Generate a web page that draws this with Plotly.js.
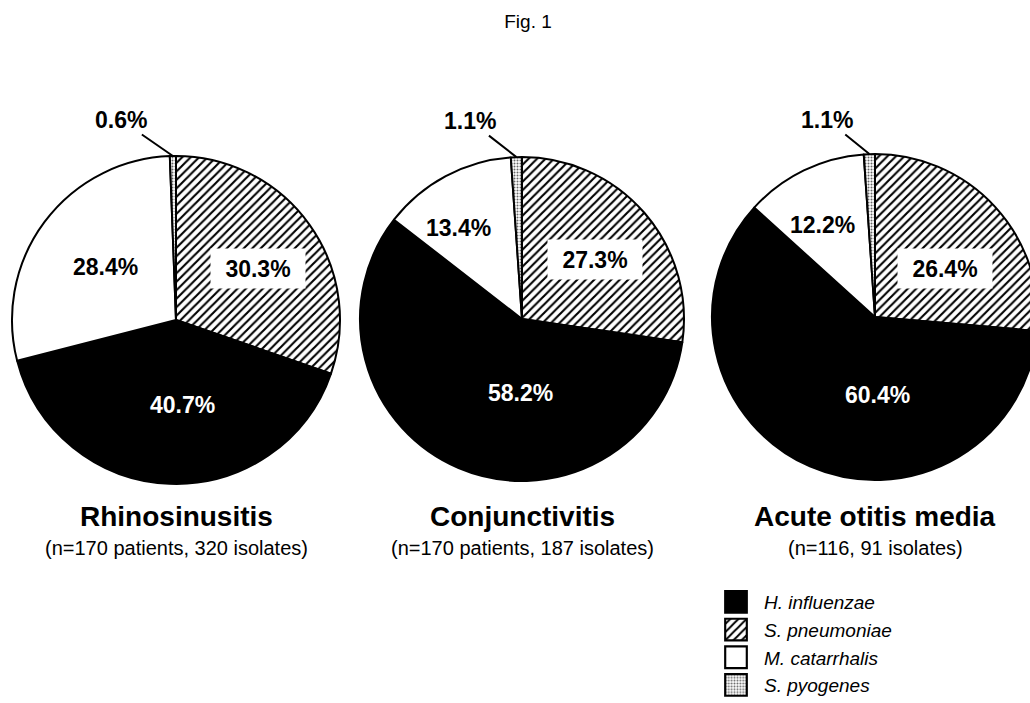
<!DOCTYPE html>
<html>
<head>
<meta charset="utf-8">
<script src="https://cdn.plot.ly/plotly-3.0.1.min.js"></script>
<style>
html, body { margin:0; padding:0; overflow:hidden; background:#fff; }
#chart { width:1100px; height:760px; }
</style>
</head>
<body>
<div id="chart"></div>
<script>
// ---------- data ----------
const legendSpecies = ['H. influenzae', 'S. pneumoniae', 'M. catarrhalis', 'S. pyogenes'];
const sliceSpecies  = ['S. pneumoniae', 'H. influenzae', 'M. catarrhalis', 'S. pyogenes'];
const rhinoValues = [30.3, 40.7, 28.4, 0.6];
const conjValues  = [27.3, 58.2, 13.4, 1.1];
const aomValues   = [26.4, 60.4, 12.2, 1.1];
const diseaseTitles = ['Rhinosinusitis', 'Conjunctivitis', 'Acute otitis media'];
const diseaseSubtitles = ['(n=170 patients, 320 isolates)', '(n=170 patients, 187 isolates)', '(n=116, 91 isolates)'];
const figTitle = 'Fig. 1';

// ---------- styles / layout config ----------
const W = 1100, H = 760;   // drawing is larger than the 1030x703 window; the third pie runs off the right edge
const FONT = 'Arial, "Liberation Sans", sans-serif';
const style = {
  'H. influenzae':  {color: 'black', pattern: {shape: ''}},
  'S. pneumoniae':  {color: 'white', pattern: {shape: '/', fgcolor: 'black', bgcolor: 'white', size: 6, solidity: 0.35, fillmode: 'replace'}},
  'M. catarrhalis': {color: 'white', pattern: {shape: ''}},
  'S. pyogenes':    {color: 'white', pattern: {shape: '.', fgcolor: '#666', bgcolor: 'white', size: 3, solidity: 0.35, fillmode: 'replace'}}
};
const legendPatternSize = {'S. pneumoniae': 4, 'S. pyogenes': 2};
const pieCenters = [[176, 320], [522, 319], [875, 317]];   // px
const pieRadii = [164, 162, 163];
// label placement (pixel offsets from pie centre) for slices 0..2, and leader offset for slice 3
const labelOffsets = [
  [[82, -52], [6, 85], [-71, -53]],
  [[73, -59], [-2, 74], [-64, -91]],
  [[70, -49], [2, 78], [-53, -92]]
];
const labelColors = ['black', 'white', 'black'];
const smallLabelOffsets = [[-52, -36], [-46, -36], [-42, -34]];
const allValues = [rhinoValues, conjValues, aomValues];
const SWATCH_SCALE = 1.8;

const traces = [];
const annotations = [];
const pctFont = c => ({family: FONT, size: 23, weight: 'bold', color: c});

function patt(key) {
  const defs = {shape: '', fgcolor: 'black', bgcolor: 'white', size: 8, solidity: 0.3};
  return sliceSpecies.map(s => {
    const p = style[s].pattern;
    return p[key] !== undefined ? p[key] : defs[key];
  });
}

allValues.forEach((vals, i) => {
  const [cx, cy] = pieCenters[i];
  const r = pieRadii[i];
  traces.push({
    type: 'pie',
    labels: sliceSpecies,
    values: vals,
    sort: false,
    direction: 'clockwise',
    rotation: 0,
    domain: {x: [(cx - r) / W, (cx + r) / W], y: [(H - cy - r) / H, (H - cy + r) / H]},
    showlegend: false,
    textinfo: 'none',
    hoverinfo: 'label+value',
    marker: {
      colors: sliceSpecies.map(s => style[s].color),
      line: {color: 'black', width: 2},
      pattern: {
        shape: patt('shape'), fgcolor: patt('fgcolor'), bgcolor: patt('bgcolor'),
        size: patt('size'), solidity: patt('solidity'), fillmode: 'replace'
      }
    }
  });

  // percentage labels for the three large slices
  for (let k = 0; k < 3; k++) {
    const [ox, oy] = labelOffsets[i][k];
    const a = {
      xref: 'paper', yref: 'paper', x: (cx + ox) / W, y: (H - cy - oy) / H,
      xanchor: 'center', yanchor: 'middle',
      text: vals[k].toFixed(1) + '%', showarrow: false,
      font: pctFont(labelColors[k])
    };
    if (k === 0) { a.bgcolor = 'white'; a.width = 92; a.height = 37; }
    annotations.push(a);
  }

  // small slice label outside with leader line pointing to the slice on the rim
  const total = vals.reduce((a, b) => a + b, 0);
  const a3 = (total - vals[3] / 2) / total * 2 * Math.PI;
  const px = cx + r * Math.sin(a3);
  const py = cy - r * Math.cos(a3);
  annotations.push({
    xref: 'paper', yref: 'paper', x: px / W, y: (H - py) / H,
    text: vals[3].toFixed(1) + '%', showarrow: true, arrowhead: 0, arrowwidth: 2, arrowcolor: 'black',
    ax: smallLabelOffsets[i][0], ay: smallLabelOffsets[i][1], standoff: 0,
    font: pctFont('black')
  });

  // disease title + subtitle
  annotations.push({
    xref: 'paper', yref: 'paper', x: cx / W, y: (H - 516) / H, xanchor: 'center', yanchor: 'middle',
    text: diseaseTitles[i], showarrow: false,
    font: {family: FONT, size: 28, weight: 'bold', color: 'black'}
  });
  annotations.push({
    xref: 'paper', yref: 'paper', x: cx / W, y: (H - 548) / H, xanchor: 'center', yanchor: 'middle',
    text: diseaseSubtitles[i], showarrow: false,
    font: {family: FONT, size: 20, color: 'black'}
  });
});

// legend entries (bars outside their hidden axis range, only their legend swatches show)
legendSpecies.forEach(s => {
  const p = Object.assign({}, style[s].pattern);
  if (legendPatternSize[s]) p.size = legendPatternSize[s];
  traces.push({
    type: 'bar', x: [0], y: [1], name: s, showlegend: true, hoverinfo: 'skip',
    marker: {color: style[s].color, line: {color: 'black', width: 1.2}, pattern: p}
  });
});

const layout = {
  width: W, height: H,
  margin: {l: 0, r: 0, t: 0, b: 0},
  paper_bgcolor: 'white', plot_bgcolor: 'rgba(0,0,0,0)',
  font: {family: FONT, color: 'black'},
  title: {text: figTitle, x: 528 / W, xanchor: 'center', y: 1 - 21 / H, yanchor: 'middle', yref: 'container',
          font: {family: FONT, size: 19, color: 'black'}},
  xaxis: {visible: false, range: [10, 11], domain: [0, 0.01], fixedrange: true},
  yaxis: {visible: false, range: [10, 11], domain: [0, 0.01], fixedrange: true},
  showlegend: true,
  legend: {x: 708 / W, xanchor: 'left', y: (H - 583) / H, yanchor: 'top',
           font: {family: FONT, size: 19, style: 'italic', color: 'black'},
           itemwidth: 46,
           bgcolor: 'rgba(0,0,0,0)', tracegroupgap: 0, traceorder: 'normal'},
  annotations: annotations
};

Plotly.newPlot('chart', traces, layout, {displayModeBar: false, staticPlot: true}).then(gd => {
  // enlarge legend swatches, keeping Plotly's own placement transform
  gd.querySelectorAll('.legend .legendpoints path').forEach(p => {
    const t = p.getAttribute('transform') || '';
    p.setAttribute('transform', t + ' scale(' + SWATCH_SCALE + ')');
  });
});
</script>
</body>
</html>
